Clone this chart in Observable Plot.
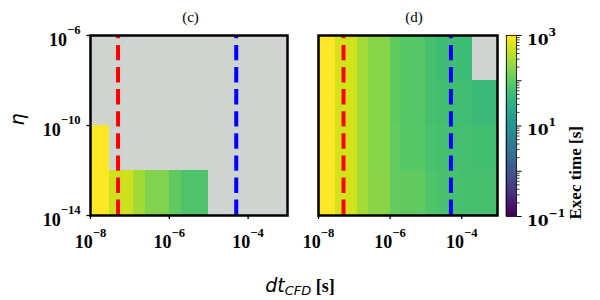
<!DOCTYPE html>
<html><head><meta charset="utf-8">
<script src="https://cdn.jsdelivr.net/npm/d3@7"></script>
<script src="https://cdn.jsdelivr.net/npm/@observablehq/plot@0.6"></script>
<style>
body{margin:0;background:#fff}
#wrap{position:relative;width:600px;height:300px;overflow:hidden;background:#fff}
#wrap svg{position:absolute;top:0;overflow:visible}
#xlabel{position:absolute;left:0;width:600px;top:274px;text-align:center;line-height:22px;white-space:nowrap}
</style></head><body><div id="wrap"></div>
<script>
// ---- data ----
const dtEdges = [1e-8, 3e-8, 1.25e-7, 2.5e-7, 1e-6, 2e-6, 1e-5, 2e-5, 4e-5, 1e-4, 2e-4, 1e-3];
const etaEdges = [1e-14, 1e-12, 1e-10, 1e-8, 1e-6];
// exec time [s]; rows from eta=1e-14 upward, columns follow dtEdges; null = no run
const execC = [
  [950, 500, 275, 174, 105, 76, null, null, null, null, null],
  [950, null, null, null, null, null, null, null, null, null, null],
  [null, null, null, null, null, null, null, null, null, null, null],
  [null, null, null, null, null, null, null, null, null, null, null]
];
const execD = [
  [980, 525, 290, 195, 110, 105, 79, 72, 68, 67, 65],
  [980, 525, 290, 190, 108, 91, 72, 67, 64, 63, 62],
  [980, 525, 290, 190, 107, 87, 66, 62, 61, 60, 52],
  [980, 525, 290, 190, 107, 87, 65, 58, 59, 55, null]
];
const dtRed = [5e-8];
const dtBlue = [5e-5];
const xTicks = [1e-8, 1e-6, 1e-4];
const yTicks = [1e-14, 1e-10, 1e-6];
const cLabelTicks = [0.1, 10, 1000];
const cMajorTicks = [0.1, 1, 10, 100, 1000];
const panelTitles = ["(c)", "(d)"];

// ---- helpers ----
function cells(m) {
  const out = [];
  m.forEach((row, j) => row.forEach((v, i) => {
    if (v != null) out.push({x1: dtEdges[i], x2: dtEdges[i + 1], y1: etaEdges[j], y2: etaEdges[j + 1], v});
  }));
  return out;
}
const sup = d => "10^" + Math.round(Math.log10(d));
const serif = "Liberation Serif, Times New Roman, serif";
const dvSerif = "DejaVu Serif, serif";
const color = {type: "log", scheme: "viridis", domain: [0.1, 1000]};
function supify(svg, expDy) {
  d3.select(svg).selectAll("text").each(function () {
    const m = this.textContent.match(/^10\^(-?\d+)$/);
    if (!m) return;
    const s = d3.select(this);
    s.text(null);
    s.append("tspan").text("10");
    s.append("tspan").attr("dy", expDy).attr("font-size", "0.7em").text(m[1].replace("-", "\u2212"));
  });
}

function panel(m, title, showY, width, mLeft, mRight, titleDx) {
  const marks = [
    Plot.frame({fill: "#d0d4d1"}),
    Plot.rect(cells(m), {x1: "x1", x2: "x2", y1: "y1", y2: "y2", fill: "v", shapeRendering: "crispEdges"}),
    Plot.ruleX(dtRed, {x: d => d, y1: () => etaEdges[0], y2: () => etaEdges[etaEdges.length - 1], stroke: "#ff0000", strokeWidth: 4, strokeDasharray: "15.4,6.7"}),
    Plot.ruleX(dtBlue, {x: d => d, y1: () => etaEdges[0], y2: () => etaEdges[etaEdges.length - 1], stroke: "#0000ff", strokeWidth: 4, strokeDasharray: "15.4,6.7"}),
    Plot.frame({stroke: "black", strokeWidth: 2.5}),
    Plot.axisX({ticks: xTicks, tickFormat: sup, tickSize: 4, tickPadding: 16, fontSize: 18, fontWeight: "bold", fontFamily: serif, strokeWidth: 1.3}),
    Plot.text([title], {frameAnchor: "top", dy: -24, dx: titleDx, fontSize: 15, fontFamily: serif, fill: "black"})
  ];
  if (showY) {
    marks.push(
      Plot.axisY({ticks: yTicks, tickFormat: () => "", tickSize: 3.5, strokeWidth: 1.3}),
      Plot.axisY({ticks: yTicks, tickFormat: sup, tickSize: 0, tickPadding: 10, dy: 4.5, fontSize: 18, fontWeight: "bold", fontFamily: serif}),
      Plot.text(["η"], {frameAnchor: "left", dx: -73, rotate: -90, fontSize: 19, fontStyle: "italic", fontFamily: "DejaVu Sans", fill: "black"})
    );
  }
  return Plot.plot({
    width, height: 300, marginLeft: mLeft, marginRight: mRight, marginTop: 35, marginBottom: 85,
    x: {type: "log", domain: [dtEdges[0], dtEdges[dtEdges.length - 1]]},
    y: {type: "log", domain: [etaEdges[0], etaEdges[etaEdges.length - 1]], axis: showY ? undefined : null},
    color,
    style: {background: "transparent", overflow: "visible", color: "black"},
    marks
  });
}

const wrap = document.getElementById("wrap");
const pc = panel(execC, panelTitles[0], true, 300, 90, 13, 1.5);
pc.style.left = "0px";
const pd = panel(execD, panelTitles[1], false, 200, 18, 3, 6);
pd.style.left = "300px";

// colorbar
const cbSteps = d3.range(0, 181).map(i => 10 ** (-1 + 4 * i / 180));
const minorTicks = [];
for (let k = -1; k < 3; k++) for (let j = 2; j < 10; j++) minorTicks.push(j * 10 ** k);
const cb = Plot.plot({
  width: 100, height: 300, marginLeft: 6, marginRight: 84, marginTop: 35, marginBottom: 84,
  x: {domain: [0, 1], axis: null},
  y: {type: "log", domain: [0.1, 1000]},
  color,
  style: {background: "transparent", overflow: "visible", color: "black"},
  marks: [
    Plot.rect(cbSteps.slice(0, -1), {x1: () => 0, x2: () => 1, y1: d => d, y2: (d, i) => cbSteps[i + 1],
      fill: (d, i) => Math.sqrt(d * cbSteps[i + 1]), stroke: (d, i) => Math.sqrt(d * cbSteps[i + 1]), strokeWidth: 0.6}),
    Plot.frame({stroke: "black", strokeWidth: 0.8}),
    Plot.axisY({anchor: "right", ticks: minorTicks, tickFormat: () => "", tickSize: 2.5, strokeWidth: 0.8}),
    Plot.axisY({anchor: "right", ticks: cMajorTicks, tickFormat: () => "", tickSize: 4.5, strokeWidth: 1}),
    Plot.axisY({anchor: "right", ticks: cLabelTicks, tickFormat: sup, tickSize: 0, tickPadding: 10.5, dy: 4.5, fontSize: 15.5, fontWeight: "bold", fontFamily: dvSerif}),
    Plot.text(["Exec time [s]"], {frameAnchor: "right", dx: 59, rotate: -90, fontSize: 17, fontWeight: "bold", fontFamily: serif, fill: "black"})
  ]
});
cb.style.left = "500px";

supify(pc, "-0.9em");
supify(pd, "-0.9em");
supify(cb, "-0.85em");
[pc, pd, cb].forEach(s => wrap.appendChild(s));

const xl = document.createElement("div");
xl.id = "xlabel";
xl.innerHTML = '<span style="font-family:DejaVu Sans;font-style:italic;font-size:19px">dt</span><sub style="font-family:DejaVu Sans;font-style:italic;font-size:13px;vertical-align:-3px">CFD</sub><span style="font-family:' + serif + ';font-weight:bold;font-size:18px"> [s]</span>';
wrap.appendChild(xl);
</script></body></html>
